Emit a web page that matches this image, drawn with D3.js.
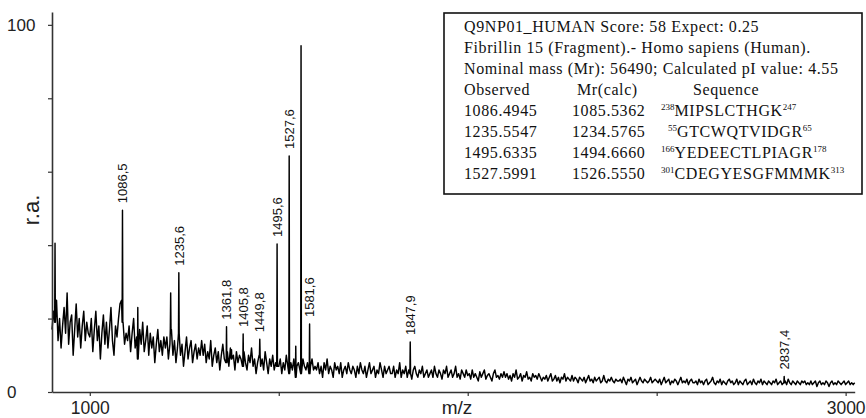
<!DOCTYPE html>
<html>
<head>
<meta charset="utf-8">
<script src="https://cdn.jsdelivr.net/npm/d3@7/dist/d3.min.js"></script>
<style>
  html, body { margin: 0; padding: 0; background: #fff; }
  svg { display: block; }
</style>
</head>
<body>
<svg id="chart" width="866" height="418"></svg>
<script>
// MALDI-TOF spectrum: relative abundance (%) sampled every 4 m/z from 900
const mzStart = 900;
const mzStep = 4;
const abundance = [
  17,22,19,25,14,20,12,18,23,16,27,13,19,21,10,17,24,15,20,12,18,22,14,19,16,          // 900
  15,20,11,17,22,14,18,9,16,21,13,19,12,17,23,14,10,18,15,20,24,25,19,13,16,           // 1000
  14,18,11,16,20,12,15,9,17,13,19,11,14,18,10,16,12,15,8,13,17,11,14,10,15,            // 1100
  12,15,9,13,17,10,14,8,12,16,10,13,7,11,15,9,12,14,8,11,13,9,12,10,14,                // 1200
  10,13,8,11,9,14,7,10,12,8,11,6,10,13,9,8,11,7,12,9,10,6,11,8,10,                     // 1300
  9,7,11,8,6,10,8,12,7,9,5,8,10,7,9,6,11,8,5,9,7,10,6,8,7,                             // 1400
  7,9,5,8,6,10,7,5,8,6,9,4,7,8,6,5,9,7,6,8,5,7,9,6,7,                                  // 1500
  6,8,5,7,4,8,6,9,5,7,6,4,8,6,7,5,8,4,6,7,5,8,6,5,7,                                   // 1600
  6,4,7,5,8,6,5,7,4,6,8,5,6,7,4,6,5,8,6,4,7,5,6,7,5,                                   // 1700
  5,7,4,6,5,8,4,6,5,7,4,6,5,3.5,6,7,5,4,6,5,7,4,5,6,4,                                 // 1800
  5,6,4,7,5,4,6,5,3.5,6,5,7,4,5,6,4,5,7,4,5,3.5,6,5,4,6,                               // 1900
  4.5,5,3.5,6,4,5,4,3,5.5,4,5,6,3.5,4.5,5,4,3,5,6,4,4.5,3.5,5,4,5.5,                   // 2000
  4,5,3.5,4.5,3,5,4,6,3.5,4,5,3,4.5,4,5.5,3.5,4,3,5,4,4.5,3.5,5,4,3,                   // 2100
  4,3.5,4.5,3,4,5,3,3.5,4.5,3,4,2.5,4,3.5,5,3,4,3.5,3,4.5,3,4,3.5,2.5,4,               // 2200
  3.5,3,4,2.5,3.5,4.5,3,3.5,2.5,4,3,3.5,4,2.5,3,4.5,3,2.5,3.5,3,4,3,2.5,3.5,3,         // 2300
  3,3.5,2.5,4,3,2,3.5,3,4,2.5,3,3.5,2,3,4,3,2.5,3.5,3,2.5,3,4,2.5,3,3.5,               // 2400
  3,2.5,3.5,2,3,4,2.5,3,3.5,2,3,2.5,3.5,3,2,3,4,2.5,3,2.5,3.5,2,3,3.5,2.5,             // 2500
  2.5,3,2,3.5,2.5,3,2,3,3.5,2,2.5,3,4,2.5,2,3,2.5,3.5,2,3,2.5,2,3,3.5,2.5,             // 2600
  3,2,2.5,3.5,2,3,2.5,2,3,3.5,2,2.5,3,2,3.5,2.5,2,3,2.5,3.5,2,3,2.5,2,3,               // 2700
  2.5,2,3,2.5,3.5,2,2.5,3,2,2.5,3,2,3.5,2.5,2,3,2.5,2,3,2.5,2,3,2.5,3,2,               // 2800
  2.5,2,3,2,2.5,3,1.5,2.5,3,2,2.5,2,3,2.5,1.5,2.5,3,2,2.5,2,3,2.5,2,2.5,3,             // 2900
  2,2.5,3,2,2.5,2,2.5                                                                  // 3000
];

// annotated peaks (m/z, relative abundance %)
const labeledMz     = [1086.5, 1235.6, 1361.8, 1405.8, 1449.8, 1495.6, 1527.6, 1581.6, 1847.9, 2837.4];
const labeledHeight = [49.5,   32.5,   17.8,   15.8,   14.4,   40.3,   64.3,   18.5,   13.6,   4.2];
// other prominent peaks without annotation
const otherMz     = [908,  1127, 1214, 1375, 1545, 1559];
const otherHeight = [40.5, 23,   27,   11.5, 12.5, 94.3];

const xTickValues = [1000, 1500, 2000, 2500, 3000];
const xTickLabels = [1000, 3000];
const yTickValues = [0, 20, 40, 60, 80, 100];
const yTickLabels = [0, 100];

// Mascot match summary
const infoLines = [
  "Q9NP01_HUMAN Score: 58 Expect: 0.25",
  "Fibrillin 15 (Fragment).- Homo sapiens (Human).",
  "Nominal mass (Mr): 56490; Calculated pI value: 4.55"
];
const tableHeader = ["Observed", "Mr(calc)", "Sequence"];
const observedMass = ["1086.4945", "1235.5547", "1495.6335", "1527.5991"];
const calcMass     = ["1085.5362", "1234.5765", "1494.6660", "1526.5550"];
const seqStart = ["238", "55", "166", "301"];
const peptides = ["MIPSLCTHGK", "GTCWQTVIDGR", "YEDEECTLPIAGR", "CDEGYESGFMMMK"];
const seqEnd   = ["247", "65", "178", "313"];

const svg = d3.select("#chart");
const sans = "'Liberation Sans', Arial, Helvetica, sans-serif";
const serif = "'Liberation Serif', 'Times New Roman', Times, serif";

const x = d3.scaleLinear().domain([900, 3024]).range([52, 854.7]);
const y = d3.scaleLinear().domain([0, 103.5]).range([392, 12]);

// spectrum points: baseline samples plus a narrow stick for every peak
const baseAt = mz => abundance[Math.max(0, Math.min(abundance.length - 1, Math.round((mz - mzStart) / mzStep)))];
const peaks = labeledMz.map((m, i) => ({ mz: m, h: labeledHeight[i] }))
  .concat(otherMz.map((m, i) => ({ mz: m, h: otherHeight[i] })));
let pts = abundance.map((v, i) => ({ mz: mzStart + i * mzStep, v }))
  .filter(p => !peaks.some(k => Math.abs(k.mz - p.mz) < 1.2));
peaks.forEach(k => {
  const b = baseAt(k.mz);
  pts.push({ mz: k.mz - 0.9, v: b }, { mz: k.mz, v: k.h }, { mz: k.mz + 0.9, v: b });
});
pts.sort((a, b) => a.mz - b.mz);

const line = d3.line().x(d => x(d.mz)).y(d => y(d.v));
svg.append("path")
  .datum(pts)
  .attr("d", line)
  .attr("fill", "none")
  .attr("stroke", "#000")
  .attr("stroke-width", 1.45)
  .attr("stroke-linejoin", "round");

// axes
const yAxis = d3.axisLeft(y).tickValues(yTickValues).tickSize(4).tickSizeOuter(0)
  .tickFormat(d => yTickLabels.includes(d) ? d : "");
const gy = svg.append("g").attr("transform", "translate(52,0)").call(yAxis);
gy.select(".domain").attr("stroke", "#333").attr("stroke-width", 1.6);
gy.selectAll(".tick line").attr("stroke", "#333").attr("stroke-width", 1.2);
gy.selectAll(".tick text")
  .attr("text-anchor", "start").attr("x", -45)
  .attr("font-family", sans).attr("font-size", 17).attr("fill", "#222");

const xAxis = d3.axisBottom(x).tickValues(xTickValues).tickSize(4).tickSizeOuter(0)
  .tickFormat(d => xTickLabels.includes(d) ? d : "");
const gx = svg.append("g").attr("transform", "translate(0,392)").call(xAxis);
gx.select(".domain").attr("stroke", "#333").attr("stroke-width", 1.6);
gx.selectAll(".tick line").attr("stroke", "#333").attr("stroke-width", 1.2);
gx.selectAll(".tick text")
  .attr("y", 10)
  .attr("font-family", sans).attr("font-size", 17.5).attr("fill", "#222");

svg.append("text")
  .attr("x", 457).attr("y", 414)
  .attr("text-anchor", "middle")
  .attr("font-family", sans).attr("font-size", 19).attr("fill", "#222")
  .text("m/z");

svg.append("text")
  .attr("transform", "translate(39,210) rotate(-90)")
  .attr("text-anchor", "middle")
  .attr("font-family", sans).attr("font-size", 22).attr("fill", "#222")
  .text("r.a.");

// peak annotations, rotated
const fmt = d3.format(".1f");
svg.append("g").selectAll("text")
  .data(labeledMz.map((m, i) => ({ mz: m, h: labeledHeight[i] })))
  .join("text")
  .attr("transform", d => `translate(${x(d.mz)},${y(d.h) - 7}) rotate(-90)`)
  .attr("dy", "0.36em")
  .attr("font-family", sans).attr("font-size", 13).attr("fill", "#111")
  .text(d => fmt(d.mz).replace(".", ","));

// match summary box
const box = svg.append("g");
box.append("rect")
  .attr("x", 444).attr("y", 13).attr("width", 418).attr("height", 181)
  .attr("fill", "#fff").attr("stroke", "#111").attr("stroke-width", 1.6);

const tx = 464, row0 = 32, rowGap = 21;
const txt = (xx, yy) => box.append("text")
  .attr("x", xx).attr("y", yy)
  .attr("font-family", serif).attr("font-size", 16).attr("letter-spacing", 0.6).attr("fill", "#111");

infoLines.forEach((s, i) => txt(tx, row0 + i * rowGap).text(s));
const hy = row0 + 3 * rowGap;
txt(tx, hy).text(tableHeader[0]);
txt(577, hy).text(tableHeader[1]);
txt(693, hy).text(tableHeader[2]);
observedMass.forEach((s, i) => {
  const yy = hy + (i + 1) * rowGap;
  txt(tx, yy).text(s);
  txt(572, yy).text(calcMass[i]);
  const t = txt(i === 1 ? 668 : 661, yy);
  t.append("tspan").attr("font-size", 9).attr("dy", -6).attr("letter-spacing", 0).text(seqStart[i]);
  t.append("tspan").attr("dy", 6).text(peptides[i]);
  t.append("tspan").attr("font-size", 9).attr("dy", -6).attr("letter-spacing", 0).text(seqEnd[i]);
});
</script>
</body>
</html>
